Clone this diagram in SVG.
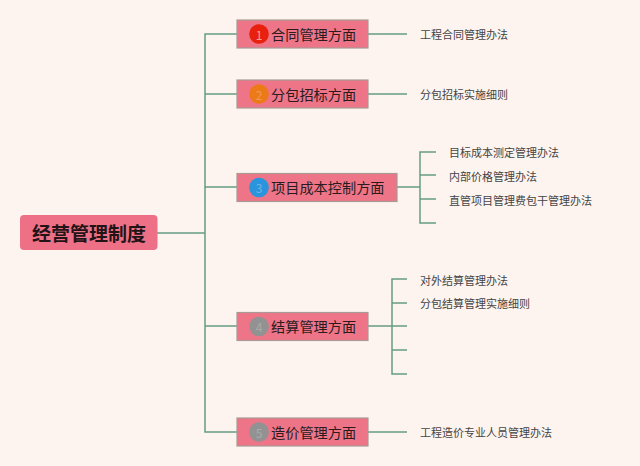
<svg xmlns="http://www.w3.org/2000/svg" width="640" height="466" viewBox="0 0 640 466">
<style>
text{font-family:"Noto Sans CJK SC","Noto Sans",sans-serif}
.c{fill:none;stroke:#659c84;stroke-width:1.500}
.b{fill:#ee7587;stroke:#a89a94;stroke-width:1.200}
.t{font-size:14.200px;fill:#2a1c1e;dominant-baseline:central}
.l{font-size:11px;fill:#444;dominant-baseline:central}
.n{font-size:12px;text-anchor:middle;dominant-baseline:central}
</style>
<rect width="640" height="466" fill="#fef4ef"/>
<g id="connectors" class="c">
<path d="M157 233H205M237 34H205V432H237M205 94H237M205 187H237M205 326H237"/>
<path d="M368 34H407M368 94H407"/>
<path d="M397 187H420M436 152H420V223H436M420 175H436M420 199H436"/>
<path d="M368 326H407M407 279H392V374H407M392 303H407M392 350H407"/>
<path d="M368 432H407"/>
</g>
<g id="root"><rect x="20" y="215" width="137.500" height="35" rx="4" fill="#ee7086"/><text x="32" y="232.500" font-size="19px" font-weight="700" fill="#221416" dominant-baseline="central">经营管理制度</text></g>
<g id="n1"><rect class="b" x="237" y="20" width="131" height="28"/><circle cx="259" cy="34" r="9.800" fill="#e8200e"/><text class="n" x="259" y="34" fill="#f4a090">1</text><text class="t" x="271" y="33.500">合同管理方面</text></g>
<g id="n2"><rect class="b" x="237" y="80" width="131" height="28"/><circle cx="259" cy="94" r="9.800" fill="#ec7a18"/><text class="n" x="259" y="94" fill="#f09a50">2</text><text class="t" x="271" y="93.500">分包招标方面</text></g>
<g id="n3"><rect class="b" x="237" y="173.500" width="160" height="28"/><circle cx="259" cy="187.500" r="9.800" fill="#2a94dc"/><text class="n" x="259" y="187.500" fill="#70b4e4">3</text><text class="t" x="271" y="187">项目成本控制方面</text></g>
<g id="n4"><rect class="b" x="237" y="312.500" width="131" height="28"/><circle cx="259" cy="326.500" r="9.800" fill="#929292"/><text class="n" x="259" y="326.500" fill="#aaa">4</text><text class="t" x="271" y="326">结算管理方面</text></g>
<g id="n5"><rect class="b" x="237" y="418" width="131" height="28"/><circle cx="259" cy="432" r="9.800" fill="#929292"/><text class="n" x="259" y="432" fill="#aaa">5</text><text class="t" x="271" y="431.500">造价管理方面</text></g>
<g id="leaves">
<text class="l" x="420" y="34">工程合同管理办法</text>
<text class="l" x="420" y="94">分包招标实施细则</text>
<text class="l" x="449" y="152">目标成本测定管理办法</text>
<text class="l" x="449" y="176">内部价格管理办法</text>
<text class="l" x="449" y="200">直管项目管理费包干管理办法</text>
<text class="l" x="420" y="279.500">对外结算管理办法</text>
<text class="l" x="420" y="303">分包结算管理实施细则</text>
<text class="l" x="420" y="432">工程造价专业人员管理办法</text>
</g>
</svg>
